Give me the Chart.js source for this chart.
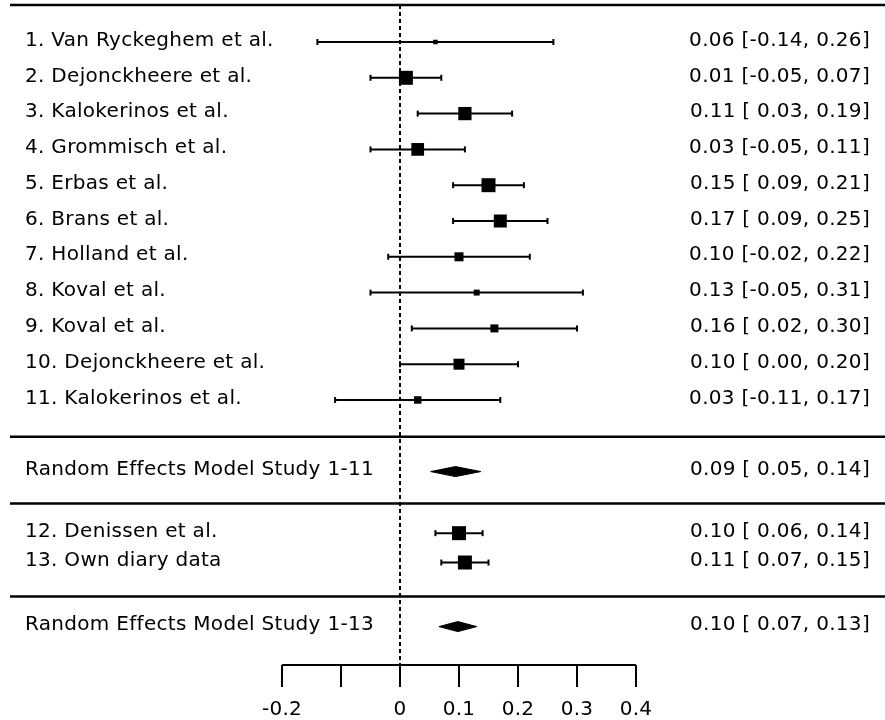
<!DOCTYPE html>
<html>
<head>
<meta charset="utf-8">
<script src="https://cdn.jsdelivr.net/npm/chart.js@4/dist/chart.umd.min.js"></script>
<style>
html,body{margin:0;padding:0;background:#fff;}
#wrap{width:885px;height:720px;}
</style>
</head>
<body>
<div id="wrap"><canvas id="c" width="885" height="720"></canvas></div>
<script>
// ---------- DATA ----------
const studyLabels = [
  "1. Van Ryckeghem et al.",
  "2. Dejonckheere et al.",
  "3. Kalokerinos et al.",
  "4. Grommisch et al.",
  "5. Erbas et al.",
  "6. Brans et al.",
  "7. Holland et al.",
  "8. Koval et al.",
  "9. Koval et al.",
  "10. Dejonckheere et al.",
  "11. Kalokerinos et al.",
  "12. Denissen et al.",
  "13. Own diary data"
];
const studyEst = [0.06, 0.01, 0.11, 0.03, 0.15, 0.17, 0.10, 0.13, 0.16, 0.10, 0.03, 0.10, 0.11];
const studyLo  = [-0.14, -0.05, 0.03, -0.05, 0.09, 0.09, -0.02, -0.05, 0.02, 0.00, -0.11, 0.06, 0.07];
const studyHi  = [0.26, 0.07, 0.19, 0.11, 0.21, 0.25, 0.22, 0.31, 0.30, 0.20, 0.17, 0.14, 0.15];
const studyWeight = [1.7, 12.2, 11.4, 10.8, 12.2, 11.1, 6.7, 3.3, 5.6, 8.9, 5.0, 12.2, 12.2];

const summaryLabels = ["Random Effects Model Study 1-11", "Random Effects Model Study 1-13"];
const summaryEst = [0.094, 0.098];
const summaryLo  = [0.052, 0.066];
const summaryHi  = [0.137, 0.130];

const tickValues = [-0.2, -0.1, 0, 0.1, 0.2, 0.3, 0.4];
const tickLabels = ["-0.2", "", "0", "0.1", "0.2", "0.3", "0.4"];

// ---------- LAYOUT (row positions, not data) ----------
const studyRows = [1,2,3,4,5,6,7,8,9,10,11,14.72,15.54];
const summaryRows = [13.0, 17.33];
const ruleRows = [12.03, 13.89, 16.49];
const topRuleRow = -0.035;
const axisRow = 18.40;
const ROW_MIN = -0.1732, ROW_MAX = 19.939;
const X_MIN = -400/590, X_MAX = 485/590;
const FONT = '20px "DejaVu Sans"';
const DIAMOND_HALF = 0.14;

function fmt(v){ return v.toFixed(2); }
function padPos(v){ return (v >= 0 ? " " : "") + v.toFixed(2); }
function ciText(e, l, h){ return fmt(e) + " [" + padPos(l) + ", " + fmt(h) + "]"; }

const datasets = [];
// reference line at 0
datasets.push({
  type: 'line',
  data: [{x: 0, y: topRuleRow}, {x: 0, y: axisRow}],
  borderColor: '#000', borderWidth: 2, borderDash: [4, 3],
  pointRadius: 0, fill: false
});
// confidence intervals
studyEst.forEach((e, i) => {
  datasets.push({
    type: 'line',
    data: [{x: studyLo[i], y: studyRows[i]}, {x: studyHi[i], y: studyRows[i]}],
    borderColor: '#000', borderWidth: 2,
    pointStyle: 'line', pointRotation: 90, pointRadius: 3,
    pointBorderWidth: 2, pointBorderColor: '#000',
    fill: false
  });
});
// study point estimates
datasets.push({
  type: 'scatter',
  data: studyEst.map((e, i) => ({x: e, y: studyRows[i]})),
  pointStyle: 'rect',
  pointRadius: studyWeight.map(w => (3 + 0.9 * w) / Math.SQRT2),
  backgroundColor: '#000', borderWidth: 0
});
// summary diamonds
summaryEst.forEach((e, i) => {
  const r = summaryRows[i];
  datasets.push({
    type: 'line',
    data: [
      {x: summaryLo[i], y: r}, {x: e, y: r - DIAMOND_HALF},
      {x: summaryHi[i], y: r}, {x: e, y: r + DIAMOND_HALF},
      {x: summaryLo[i], y: r}
    ],
    borderColor: '#000', backgroundColor: '#000', borderWidth: 1,
    pointRadius: 0, fill: 'shape', tension: 0
  });
});

const decor = {
  id: 'decor',
  beforeDatasetsDraw(chart) {
    const ctx = chart.ctx, xs = chart.scales.x, ys = chart.scales.y;
    ctx.save();
    ctx.strokeStyle = '#000';
    // rules
    ctx.lineWidth = 2.5;
    ctx.beginPath();
    let y = ys.getPixelForValue(topRuleRow);
    ctx.moveTo(10, y); ctx.lineTo(chart.width, y); ctx.stroke();
    ruleRows.forEach(r => {
      const yy = ys.getPixelForValue(r);
      ctx.beginPath(); ctx.moveTo(10, yy); ctx.lineTo(chart.width, yy); ctx.stroke();
    });
    // axis
    ctx.lineWidth = 2;
    const ay = ys.getPixelForValue(axisRow);
    ctx.beginPath();
    ctx.moveTo(xs.getPixelForValue(tickValues[0]), ay);
    ctx.lineTo(xs.getPixelForValue(tickValues[tickValues.length - 1]), ay);
    ctx.stroke();
    ctx.font = FONT; ctx.fillStyle = '#000';
    try { ctx.letterSpacing = '0.3px'; } catch (e) {}
    ctx.textAlign = 'center'; ctx.textBaseline = 'middle';
    tickValues.forEach((t, i) => {
      const tx = xs.getPixelForValue(t);
      ctx.beginPath(); ctx.moveTo(tx, ay); ctx.lineTo(tx, ay + 22); ctx.stroke();
      if (tickLabels[i]) ctx.fillText(tickLabels[i], tx, ay + 45);
    });
    // texts
    studyLabels.forEach((lab, i) => {
      const ty = ys.getPixelForValue(studyRows[i]) - 1.5;
      ctx.textAlign = 'left'; ctx.fillText(lab, 25, ty);
      ctx.textAlign = 'right'; ctx.fillText(ciText(studyEst[i], studyLo[i], studyHi[i]), 870, ty);
    });
    summaryLabels.forEach((lab, i) => {
      const ty = ys.getPixelForValue(summaryRows[i]) - 1.5;
      ctx.textAlign = 'left'; ctx.fillText(lab, 25, ty);
      ctx.textAlign = 'right'; ctx.fillText(ciText(summaryEst[i], summaryLo[i], summaryHi[i]), 870, ty);
    });
    ctx.restore();
  }
};

new Chart(document.getElementById('c'), {
  type: 'scatter',
  data: { datasets },
  options: {
    responsive: false,
    animation: false,
    devicePixelRatio: 1,
    layout: { padding: 0, autoPadding: false },
    plugins: { legend: { display: false }, tooltip: { enabled: false } },
    scales: {
      x: { type: 'linear', display: false, min: X_MIN, max: X_MAX },
      y: { type: 'linear', display: false, min: ROW_MIN, max: ROW_MAX, reverse: true }
    }
  },
  plugins: [decor]
});
</script>
</body>
</html>
